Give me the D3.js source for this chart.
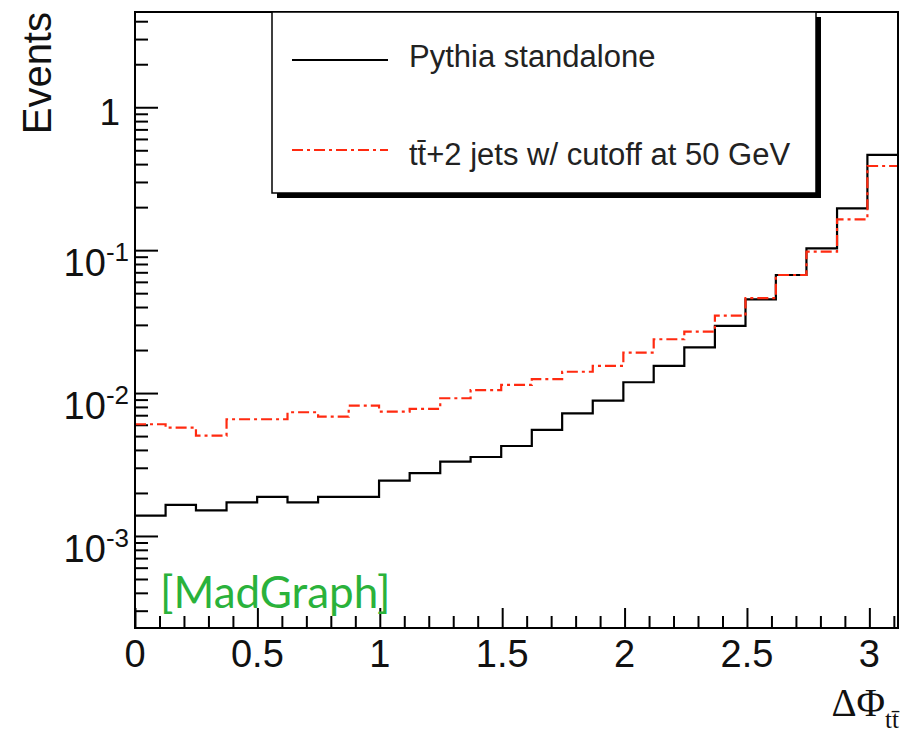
<!DOCTYPE html>
<html>
<head>
<meta charset="utf-8">
<script src="https://cdn.jsdelivr.net/npm/d3@7"></script>
<style>
  body { margin: 0; background: #fff; }
  svg { display: block; }
  .axis text { display: none; }
</style>
</head>
<body>
<svg id="chart" width="902" height="736"></svg>
<script>
// bin edges of the histogram (delta phi, rad)
var binEdges = [0, 0.125, 0.249, 0.374, 0.499, 0.623, 0.748, 0.873, 0.997, 1.122,
  1.247, 1.371, 1.496, 1.621, 1.745, 1.870, 1.995, 2.119, 2.244, 2.369,
  2.494, 2.618, 2.743, 2.868, 2.992, 3.117];

// Pythia standalone
var pythia = [0.00139, 0.00165, 0.00151, 0.00172, 0.00188, 0.00172, 0.00188, 0.00188,
  0.00244, 0.00275, 0.00331, 0.00357, 0.00426, 0.00552, 0.00722, 0.00885,
  0.0119, 0.0155, 0.0209, 0.0295, 0.0453, 0.0670, 0.103, 0.196, 0.464];

// tt+2 jets w/ cutoff at 50 GeV
var ttjets = [0.00605, 0.00573, 0.00503, 0.00656, 0.00656, 0.00734, 0.00684, 0.00816,
  0.00741, 0.00774, 0.00920, 0.0105, 0.0114, 0.0125, 0.0141, 0.0155,
  0.0192, 0.0238, 0.0269, 0.0348, 0.0461, 0.0670, 0.0977, 0.164, 0.388];

var xTicks = [0, 0.5, 1, 1.5, 2, 2.5, 3],
    xTickLabels = ["0", "0.5", "1", "1.5", "2", "2.5", "3"];
var yTicks = [0.001, 0.01, 0.1, 1],
    yTickExp = ["-3", "-2", "-1", ""];

var legendLabels = ["Pythia standalone", "t\u0074\u0304+2 jets w/ cutoff at 50 GeV"];

var svg = d3.select("#chart"),
    frame = {left: 135, right: 898, top: 12, bottom: 628};

var x = d3.scaleLinear().domain([0, 3.117]).range([frame.left, frame.right]),
    y = d3.scaleLog().domain([2.27e-4, 4.64]).range([frame.bottom, frame.top]);

var font = "'Liberation Sans', Arial, Helvetica, sans-serif";

// minor ticks
var yMinor = [];
[-4, -3, -2, -1, 0].forEach(function(e) {
  for (var k = 2; k <= 9; k++) {
    var v = k * Math.pow(10, e);
    if (v > y.domain()[0] && v < y.domain()[1]) yMinor.push(v);
  }
});
var xMinor = d3.range(0, 3.11, 0.1).filter(function(v) {
  return xTicks.every(function(t) { return Math.abs(t - v) > 1e-6; });
});

function tickAxis(axis, cls, transform) {
  var g = svg.append("g")
    .attr("class", "axis " + cls)
    .attr("transform", transform)
    .call(axis);
  g.select(".domain").remove();
  g.selectAll("line").attr("stroke", "#000").attr("stroke-width", 2);
  return g;
}

tickAxis(d3.axisRight(y).tickValues(yTicks).tickSize(23).tickFormat(""), "ymaj", "translate(" + frame.left + ",0)");
tickAxis(d3.axisRight(y).tickValues(yMinor).tickSize(13).tickFormat(""), "ymin", "translate(" + frame.left + ",0)");
tickAxis(d3.axisTop(x).tickValues(xTicks).tickSize(20).tickFormat(""), "xmaj", "translate(0," + frame.bottom + ")");
tickAxis(d3.axisTop(x).tickValues(xMinor).tickSize(12).tickFormat(""), "xmin", "translate(0," + frame.bottom + ")");

// histograms
var step = d3.line()
  .x(function(d) { return x(d[0]); })
  .y(function(d) { return y(d[1]); })
  .curve(d3.curveStepAfter);

function histPoints(vals) {
  var pts = vals.map(function(v, i) { return [binEdges[i], v]; });
  pts.push([binEdges[vals.length], vals[vals.length - 1]]);
  return pts;
}

svg.append("path")
  .attr("d", step(histPoints(pythia)))
  .attr("fill", "none")
  .attr("stroke", "#000")
  .attr("stroke-width", 2.2);

svg.append("path")
  .attr("d", step(histPoints(ttjets)))
  .attr("fill", "none")
  .attr("stroke", "#ff2a10")
  .attr("stroke-width", 2.2)
  .attr("stroke-dasharray", "11,4,3,4");

// frame
svg.append("rect")
  .attr("x", frame.left).attr("y", frame.top)
  .attr("width", frame.right - frame.left).attr("height", frame.bottom - frame.top)
  .attr("fill", "none").attr("stroke", "#000").attr("stroke-width", 2);

// tick labels
svg.selectAll("text.xlab")
  .data(xTicks)
  .enter().append("text")
  .attr("class", "xlab")
  .attr("x", function(d) { return x(d); })
  .attr("y", 667)
  .attr("text-anchor", "middle")
  .attr("font-family", font)
  .attr("font-size", 38)
  .attr("fill", "#111")
  .text(function(d, i) { return xTickLabels[i]; });

yTicks.forEach(function(v, i) {
  var t = svg.append("text")
    .attr("text-anchor", "end")
    .attr("font-family", font)
    .attr("fill", "#111");
  if (yTickExp[i] === "") {
    t.attr("x", 120).attr("y", y(v) + 18).attr("font-size", 37).text("1");
  } else {
    t.attr("x", 129).attr("y", y(v) + 26).attr("font-size", 38);
    t.append("tspan").text("10");
    t.append("tspan").attr("font-size", 26).attr("dy", -15).text(yTickExp[i]);
  }
});

// axis titles
svg.append("text")
  .attr("transform", "translate(51,12) rotate(-90)")
  .attr("text-anchor", "end")
  .attr("font-family", font)
  .attr("font-size", 40)
  .attr("fill", "#111")
  .text("Events");

var xt = svg.append("text")
  .attr("x", 899)
  .attr("y", 716)
  .attr("text-anchor", "end")
  .attr("font-family", "'Liberation Serif', 'DejaVu Serif', serif")
  .attr("font-size", 39)
  .attr("fill", "#111");
xt.append("tspan").text("\u0394\u03A6");
xt.append("tspan").attr("font-size", 25).attr("dy", 12).text("t\u0074\u0304");

// legend
var lg = svg.append("g");
lg.append("rect")
  .attr("x", 277).attr("y", 17).attr("width", 544).attr("height", 181)
  .attr("fill", "#000");
lg.append("rect")
  .attr("x", 272).attr("y", 12).attr("width", 544).attr("height", 181)
  .attr("fill", "#fff").attr("stroke", "#000").attr("stroke-width", 1.5);

var legendStyles = [
  {stroke: "#000", dash: null, y: 60},
  {stroke: "#ff2a10", dash: "11,4,3,4", y: 150}
];
legendStyles.forEach(function(s, i) {
  lg.append("line")
    .attr("x1", 292).attr("x2", 388)
    .attr("y1", s.y).attr("y2", s.y)
    .attr("stroke", s.stroke)
    .attr("stroke-width", 2)
    .attr("stroke-dasharray", s.dash);
  lg.append("text")
    .attr("x", 409)
    .attr("y", s.y + 7 + (i === 1 ? 8 : 0))
    .attr("font-family", font)
    .attr("font-size", 31)
    .attr("fill", "#222")
    .text(legendLabels[i]);
});

// MadGraph tag
svg.append("text")
  .attr("x", 160)
  .attr("y", 608)
  .attr("font-family", "Lato, 'Open Sans', sans-serif")
  .attr("font-size", 44)
  .attr("fill", "#2ab23b")
  .text("[MadGraph]");
</script>
</body>
</html>
